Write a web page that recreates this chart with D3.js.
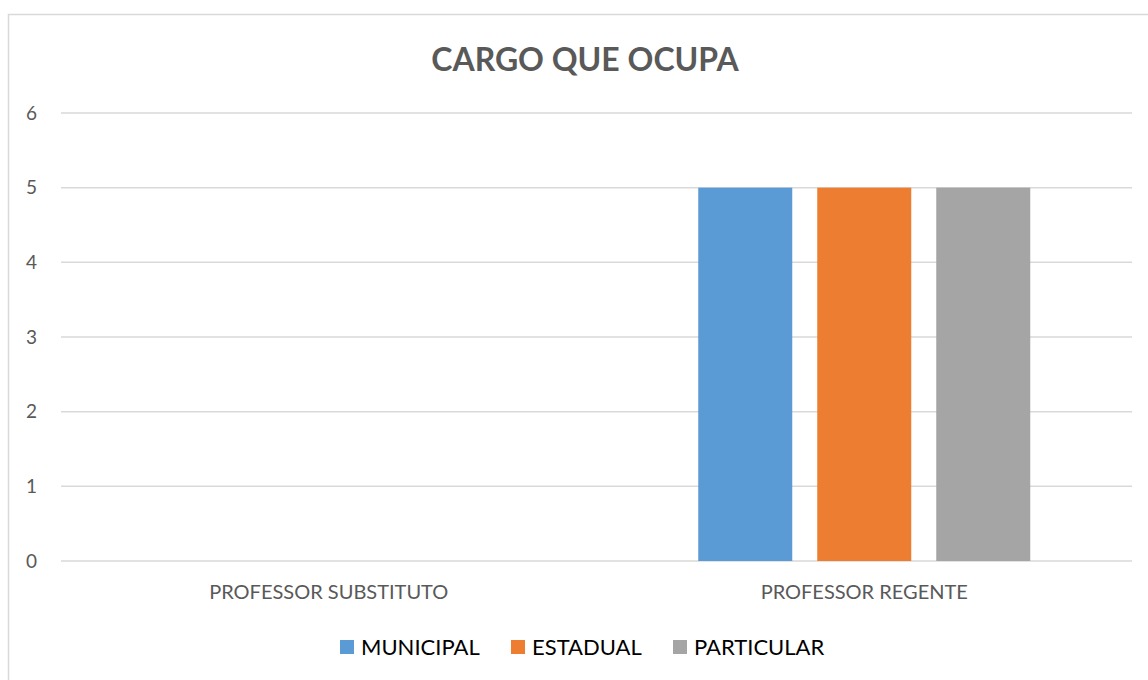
<!DOCTYPE html>
<html>
<head>
<meta charset="utf-8">
<script src="https://cdn.jsdelivr.net/npm/d3@7"></script>
<style>
  body { margin: 0; background: #fff; }
  svg { display: block; font-family: Lato, "Open Sans", sans-serif; }
</style>
</head>
<body>
<svg id="chart" width="1148" height="680"></svg>
<script>
// chart data
const categories = ["PROFESSOR SUBSTITUTO", "PROFESSOR REGENTE"];
const seriesNames = ["MUNICIPAL", "ESTADUAL", "PARTICULAR"];
const municipal = [0, 5];
const estadual = [0, 5];
const particular = [0, 5];
const yTicks = [0, 1, 2, 3, 4, 5, 6];
const colors = ["#5b9bd5", "#ed7d31", "#a5a5a5"];

const values = [municipal, estadual, particular];

const svg = d3.select("#chart");
const margin = {top: 113, right: 16, bottom: 119, left: 61};
const width = 1148 - margin.left - margin.right;
const height = 680 - margin.top - margin.bottom;

// outer frame (only top/left show, chart is cropped)
svg.append("rect")
    .attr("x", 8.5).attr("y", 14.5)
    .attr("width", 1160).attr("height", 700)
    .attr("fill", "none")
    .attr("stroke", "#d9d9d9")
    .attr("stroke-width", 1.5);

svg.append("text")
    .attr("x", 585).attr("y", 71)
    .attr("text-anchor", "middle")
    .attr("font-size", 32)
    .attr("font-weight", "bold")
    .attr("fill", "#595959")
    .text("CARGO QUE OCUPA");

const g = svg.append("g").attr("transform", `translate(${margin.left},${margin.top})`);

const y = d3.scaleLinear().domain([0, 6]).range([height, 0]);
const x0 = d3.scaleBand().domain(categories).range([0, width]);
const x1 = d3.scaleBand().domain(seriesNames)
    .range([0, x0.bandwidth()])
    .paddingInner(0.21)
    .paddingOuter(0.855);

// gridlines
g.append("g")
  .selectAll("line")
  .data(yTicks)
  .join("line")
    .attr("x1", 0).attr("x2", width)
    .attr("y1", d => y(d)).attr("y2", d => y(d))
    .attr("stroke", "#d9d9d9")
    .attr("stroke-width", 1.5);

// y labels
g.append("g")
  .selectAll("text")
  .data(yTicks)
  .join("text")
    .attr("x", -24).attr("y", d => y(d))
    .attr("dy", "0.35em")
    .attr("text-anchor", "end")
    .attr("font-size", 19)
    .attr("fill", "#595959")
    .text(d => d);

// bars
const groups = g.append("g")
  .selectAll("g")
  .data(categories)
  .join("g")
    .attr("transform", d => `translate(${x0(d)},0)`);

groups.selectAll("rect")
  .data((c, ci) => seriesNames.map((s, si) => ({s, si, v: values[si][ci]})))
  .join("rect")
    .attr("x", d => x1(d.s))
    .attr("width", x1.bandwidth())
    .attr("y", d => y(d.v))
    .attr("height", d => y(0) - y(d.v))
    .attr("fill", d => colors[d.si]);

// category labels
g.append("g")
  .selectAll("text")
  .data(categories)
  .join("text")
    .attr("x", d => x0(d) + x0.bandwidth() / 2)
    .attr("y", height + 38)
    .attr("text-anchor", "middle")
    .attr("font-size", 20)
    .attr("fill", "#595959")
    .text(d => d);

// legend
const legendX = [340, 511, 673];
const legend = svg.append("g")
  .selectAll("g")
  .data(seriesNames)
  .join("g")
    .attr("transform", (d, i) => `translate(${legendX[i]},640)`);

legend.append("rect")
    .attr("width", 14).attr("height", 14)
    .attr("fill", (d, i) => colors[i]);

legend.append("text")
    .attr("x", 21).attr("y", 7)
    .attr("dy", "0.35em")
    .attr("font-size", 22)
    .attr("fill", "#000")
    .text(d => d);
</script>
</body>
</html>
